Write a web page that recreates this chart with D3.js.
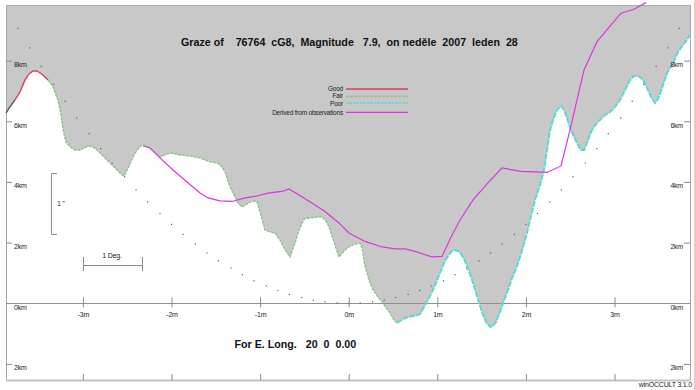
<!DOCTYPE html>
<html>
<head>
<meta charset="utf-8">
<script src="https://cdn.jsdelivr.net/npm/d3@7"></script>
<style>
body { margin: 0; background: #fff; }
svg { display: block; }
.small { font-family: "Liberation Sans", Arial, sans-serif; font-size: 7px; letter-spacing: -0.2px; fill: #222; }
.legend { font-size: 6.5px; }
.bold { font-family: "Liberation Sans", Arial, sans-serif; font-weight: bold; font-size: 10.7px; fill: #111; white-space: pre; }
</style>
</head>
<body>
<svg id="chart" width="696" height="390"></svg>
<script>
/*********************** DATA ********************************/
let titleText = 'Graze of    76764  cG8,  Magnitude   7.9,  on neděle  2007  leden  28';
let longText = 'For E. Long.   20  0  0.00';

let minuteTicks = [-3, -2, -1, 0, 1, 2, 3];
let minuteLabels = ['-3m', '-2m', '-1m', '0m', '1m', '2m', '3m'];
let kmTicks = [8, 6, 4, 2, 0, -2];
let kmLabels = ['8km', '6km', '4km', '2km', '0km', '2km'];

// lunar limb profile (minutes, km)
let limbMinutes = [-3.868, -3.823, -3.766, -3.710, -3.653, -3.608, -3.563, -3.518, -3.451, -3.394,
    -3.338, -3.281, -3.247, -3.224, -3.191, -3.146, -3.089, -3.033, -2.942, -2.886,
    -2.840, -2.784, -2.728, -2.671, -2.615, -2.570, -2.536, -2.491, -2.434, -2.389,
    -2.344, -2.311, -2.265, -2.220, -2.130, -2.073, -2.017, -1.960, -1.904, -1.791,
    -1.678, -1.565, -1.486, -1.441, -1.396, -1.340, -1.295, -1.250, -1.204, -1.148,
    -1.091, -1.035, -0.990, -0.945, -0.888, -0.832, -0.775, -0.719, -0.662, -0.606,
    -0.561, -0.504, -0.437, -0.346, -0.301, -0.256, -0.222, -0.166, -0.110, -0.042,
    0.015, 0.082, 0.128, 0.150, 0.184, 0.229, 0.274, 0.331, 0.387, 0.432,
    0.466, 0.511, 0.545, 0.579, 0.613, 0.669, 0.726, 0.782, 0.816, 0.861,
    0.906, 0.940, 0.985, 1.030, 1.076, 1.121, 1.166, 1.200, 1.234, 1.268,
    1.302, 1.335, 1.369, 1.403, 1.448, 1.482, 1.516, 1.550, 1.595, 1.629,
    1.663, 1.697, 1.730, 1.764, 1.798, 1.844, 1.900, 1.934, 1.967, 2.012,
    2.046, 2.103, 2.159, 2.204, 2.238, 2.272, 2.306, 2.351, 2.396, 2.430,
    2.464, 2.498, 2.543, 2.588, 2.622, 2.656, 2.701, 2.746, 2.791, 2.836,
    2.893, 2.949, 3.006, 3.062, 3.119, 3.175, 3.220, 3.254, 3.288, 3.322,
    3.367, 3.412, 3.457, 3.491, 3.536, 3.593, 3.660, 3.717, 3.773, 3.818, 3.852];
let limbKm = [6.274, 6.472, 6.703, 6.967, 7.362, 7.560, 7.659, 7.659, 7.527, 7.362,
    7.132, 6.703, 6.208, 5.714, 5.318, 5.153, 5.054, 5.054, 5.186, 5.153,
    5.054, 4.890, 4.725, 4.560, 4.395, 4.263, 4.197, 4.461, 4.824, 5.054,
    5.186, 5.219, 5.153, 5.054, 4.824, 4.890, 4.956, 4.923, 4.890, 4.857,
    4.791, 4.659, 4.626, 4.527, 4.329, 3.834, 3.571, 3.307, 3.175, 3.274,
    3.373, 3.340, 2.911, 2.417, 2.351, 2.318, 2.087, 1.757, 1.527, 1.988,
    2.417, 2.779, 2.812, 2.845, 2.845, 2.713, 2.516, 2.021, 1.527, 1.757,
    1.889, 1.955, 1.988, 1.823, 1.230, 0.768, 0.439, 0.208, 0.010, -0.188,
    -0.320, -0.551, -0.650, -0.584, -0.518, -0.452, -0.419, -0.386, -0.320, -0.056,
    0.175, 0.373, 0.669, 0.999, 1.329, 1.560, 1.724, 1.757, 1.724, 1.625,
    1.461, 1.230, 0.966, 0.669, 0.241, -0.089, -0.386, -0.617, -0.781, -0.748,
    -0.617, -0.353, -0.089, 0.175, 0.439, 0.834, 1.230, 1.527, 1.856, 2.318,
    2.746, 3.406, 3.900, 4.395, 5.054, 5.714, 6.044, 6.373, 6.505, 6.373,
    6.109, 5.780, 5.483, 5.219, 5.054, 5.054, 5.384, 5.714, 5.912, 6.044,
    6.208, 6.307, 6.472, 6.703, 7.033, 7.362, 7.494, 7.494, 7.461, 7.362,
    7.099, 6.802, 6.604, 6.736, 7.099, 7.593, 7.923, 8.286, 8.516, 8.681, 8.846];

// quality of limb data, by minute ranges
let qualityNames = ['none', 'Good', 'Fair', 'Poor'];
let qualityStart = [-3.868, -3.766, -3.394, 0.545];
let qualityEnd = [-3.766, -3.394, 0.545, 3.852];

// derived from observations
let obsMinutes = [-2.321, -2.242, -2.130, -1.983, -1.825, -1.678, -1.588, -1.452, -1.317, -1.170,
    -1.058, -0.900, -0.753, -0.674, -0.561, -0.415, -0.268, -0.110, 0.003, 0.184,
    0.376, 0.522, 0.635, 0.748, 0.940, 1.053, 1.155, 1.257, 1.403, 1.572,
    1.730, 1.945, 2.238, 2.396, 2.498, 2.656, 2.802, 3.073, 3.220, 3.356];
let obsKm = [5.186, 5.120, 4.791, 4.395, 3.999, 3.637, 3.472, 3.373, 3.356, 3.472,
    3.521, 3.637, 3.686, 3.769, 3.571, 3.307, 3.027, 2.648, 2.318, 2.038,
    1.856, 1.790, 1.790, 1.708, 1.527, 1.543, 2.186, 2.746, 3.406, 3.966,
    4.461, 4.346, 4.313, 4.527, 5.714, 7.692, 8.625, 9.562, 9.693, 9.911];

// path dots
let pathMinutes = [-3.73, -3.60, -3.47, -3.33, -3.20, -3.07, -2.93, -2.80, -2.67, -2.53,
    -2.40, -2.27, -2.13, -2.00, -1.87, -1.73, -1.60, -1.47, -1.33, -1.20,
    -1.07, -0.93, -0.80, -0.67, -0.53, -0.40, -0.27, -0.13, 0.00, 0.13,
    0.27, 0.40, 0.53, 0.67, 0.80, 0.93, 1.07, 1.20, 1.33, 1.47,
    1.60, 1.73, 1.87, 2.00, 2.13, 2.27, 2.40, 2.53, 2.67, 2.80,
    2.93, 3.07, 3.20, 3.33, 3.47, 3.60, 3.73];
let pathKm = [9.06, 8.42, 7.81, 7.22, 6.66, 6.11, 5.59, 5.10, 4.62, 4.17,
    3.74, 3.34, 2.96, 2.60, 2.27, 1.95, 1.66, 1.40, 1.16, 0.94,
    0.74, 0.57, 0.42, 0.29, 0.19, 0.10, 0.05, 0.01, 0.00, 0.01,
    0.05, 0.10, 0.19, 0.29, 0.42, 0.57, 0.74, 0.94, 1.16, 1.40,
    1.66, 1.95, 2.27, 2.60, 2.96, 3.34, 3.74, 4.17, 4.62, 5.10,
    5.59, 6.11, 6.66, 7.22, 7.81, 8.42, 9.06];

let legendLabels = ['Good', 'Fair', 'Poor', 'Derived from observations'];

/*********************** SETUP ********************************/
let svg = d3.select('#chart');
let x = d3.scaleLinear().domain([-3.868, 3.852]).range([6, 690]);
let y = d3.scaleLinear().domain([-2.53, 9.8]).range([380, 6]);

let qualityColor = { none: '#555555', Good: '#d8405a', Fair: '#8cc48c', Poor: '#5fd6d6', Derived: '#d838d8' };
let qualityDash = { none: null, Good: null, Fair: '3,1', Poor: '6,1' };

let limb = limbMinutes.map((m, i) => ({ m: m, km: limbKm[i] }));

/*********************** SKY / MOON ********************************/
let area = d3.area()
    .x(d => x(d.m))
    .y0(y(9.8))
    .y1(d => y(d.km));

svg.append('path')
    .datum(limb)
    .attr('d', area)
    .attr('fill', '#c8c8c8');

// frame
svg.append('line').attr('x1', 6).attr('x2', 690.5).attr('y1', 5.5).attr('y2', 5.5).attr('stroke', '#a8a8a8');
svg.append('line').attr('x1', 6.5).attr('x2', 6.5).attr('y1', 5.5).attr('y2', 381).attr('stroke', '#a8a8a8');
svg.append('line').attr('x1', 690.5).attr('x2', 690.5).attr('y1', 5.5).attr('y2', 381).attr('stroke', '#a8a8a8');
svg.append('line').attr('x1', 6).attr('x2', 691).attr('y1', 380.5).attr('y2', 380.5).attr('stroke', '#c4c4c4').attr('stroke-width', 2);
svg.append('line').attr('x1', 695).attr('x2', 695).attr('y1', 0).attr('y2', 390).attr('stroke', '#e88a8a');

// zero line
svg.append('line')
    .attr('x1', 6).attr('x2', 690)
    .attr('y1', Math.round(y(0)) + 0.5).attr('y2', Math.round(y(0)) + 0.5)
    .attr('stroke', '#909090');

/*********************** PATH DOTS ********************************/
svg.selectAll('.dot')
    .data(pathMinutes)
    .enter()
    .append('rect')
    .attr('class', 'dot')
    .attr('x', d => x(d) - 0.6)
    .attr('y', (d, i) => y(pathKm[i]) - 0.6)
    .attr('width', 1.2)
    .attr('height', 1.2)
    .attr('fill', '#6a5a52');

/*********************** LIMB LINES ********************************/
let line = d3.line().x(d => x(d.m)).y(d => y(d.km));

qualityNames.forEach((q, i) => {
    let seg = limb.filter(d => d.m >= qualityStart[i] - 1e-6 && d.m <= qualityEnd[i] + 1e-6);
    svg.append('path')
        .datum(seg)
        .attr('d', line)
        .attr('fill', 'none')
        .attr('stroke', qualityColor[q])
        .attr('stroke-width', q === 'Poor' ? 2 : 1.4)
        .attr('stroke-dasharray', qualityDash[q]);
});

// derived from observations
let obs = obsMinutes.map((m, i) => ({ m: m, km: obsKm[i] }));
svg.append('path')
    .datum(obs)
    .attr('d', line)
    .attr('fill', 'none')
    .attr('stroke', qualityColor.Derived)
    .attr('stroke-width', 1.2);

/*********************** AXES ********************************/
let xAxis = svg.append('g')
    .attr('transform', 'translate(0,' + (y(0) - 6) + ')')
    .call(d3.axisBottom(x).tickValues(minuteTicks).tickFormat((d, i) => minuteLabels[i]).tickSize(10).tickPadding(5));
let xAxisBottom = svg.append('g')
    .attr('transform', 'translate(0,380)')
    .call(d3.axisTop(x).tickValues(minuteTicks).tickFormat('').tickSize(6));

let yLeft = svg.append('g')
    .attr('transform', 'translate(6,0)')
    .call(d3.axisRight(y).tickValues(kmTicks).tickFormat((d, i) => kmLabels[i]).tickSize(6).tickPadding(2));
let yRight = svg.append('g')
    .attr('transform', 'translate(690,0)')
    .call(d3.axisLeft(y).tickValues(kmTicks).tickFormat((d, i) => kmLabels[i]).tickSize(6).tickPadding(1));

[xAxis, xAxisBottom, yLeft, yRight].forEach(g => {
    g.select('.domain').remove();
    g.selectAll('.tick line').attr('stroke', '#8c8c8c');
    g.selectAll('.tick text').attr('class', 'small').attr('font-size', null).attr('font-family', null).attr('fill', null);
});
[yLeft, yRight].forEach(g => {
    g.selectAll('.tick text').attr('dy', '0.85em');
    g.selectAll('.tick').filter(d => d === 0).select('line').remove();
});

/*********************** TEXTS ********************************/
svg.append('text').attr('class', 'bold').attr('x', 181).attr('y', 45.5).text(titleText);
svg.append('text').attr('class', 'bold').attr('x', 234.5).attr('y', 348).text(longText);

svg.append('text').attr('class', 'small').attr('x', 692).attr('y', 387).attr('text-anchor', 'end').text('winOCCULT 3.1.0');

// legend
let legendTextY = [91, 98.3, 105.6, 114.7];
let legendLineY = [89, 96.5, 103.2, 112.3];
let legendColors = [qualityColor.Good, qualityColor.Fair, qualityColor.Poor, qualityColor.Derived];
let legendDash = [null, '3,1', '6,1', null];
legendLabels.forEach((label, i) => {
    svg.append('text')
        .attr('class', 'small legend')
        .attr('x', 343)
        .attr('y', legendTextY[i])
        .attr('text-anchor', 'end')
        .text(label);
    svg.append('line')
        .attr('x1', 346).attr('x2', 408)
        .attr('y1', legendLineY[i]).attr('y2', legendLineY[i])
        .attr('stroke', legendColors[i])
        .attr('stroke-width', 1.3)
        .attr('stroke-dasharray', legendDash[i]);
});

/*********************** SCALE BARS ********************************/
// 1 arcsec bracket
let sb = svg.append('g').attr('stroke', '#8c8c8c').attr('fill', 'none');
sb.append('path').attr('d', 'M57,173.5 H51.5 V234.5 H57');
svg.append('text').attr('class', 'small').attr('x', 57).attr('y', 206).text("1 ''");

// 1 degree bar
sb.append('path').attr('d', 'M83.5,257 V271 M83.5,265.5 H142.5 M142.5,257 V271');
svg.append('text').attr('class', 'small').attr('x', 112).attr('y', 258).attr('text-anchor', 'middle').text('1 Deg.');
</script>
</body>
</html>
